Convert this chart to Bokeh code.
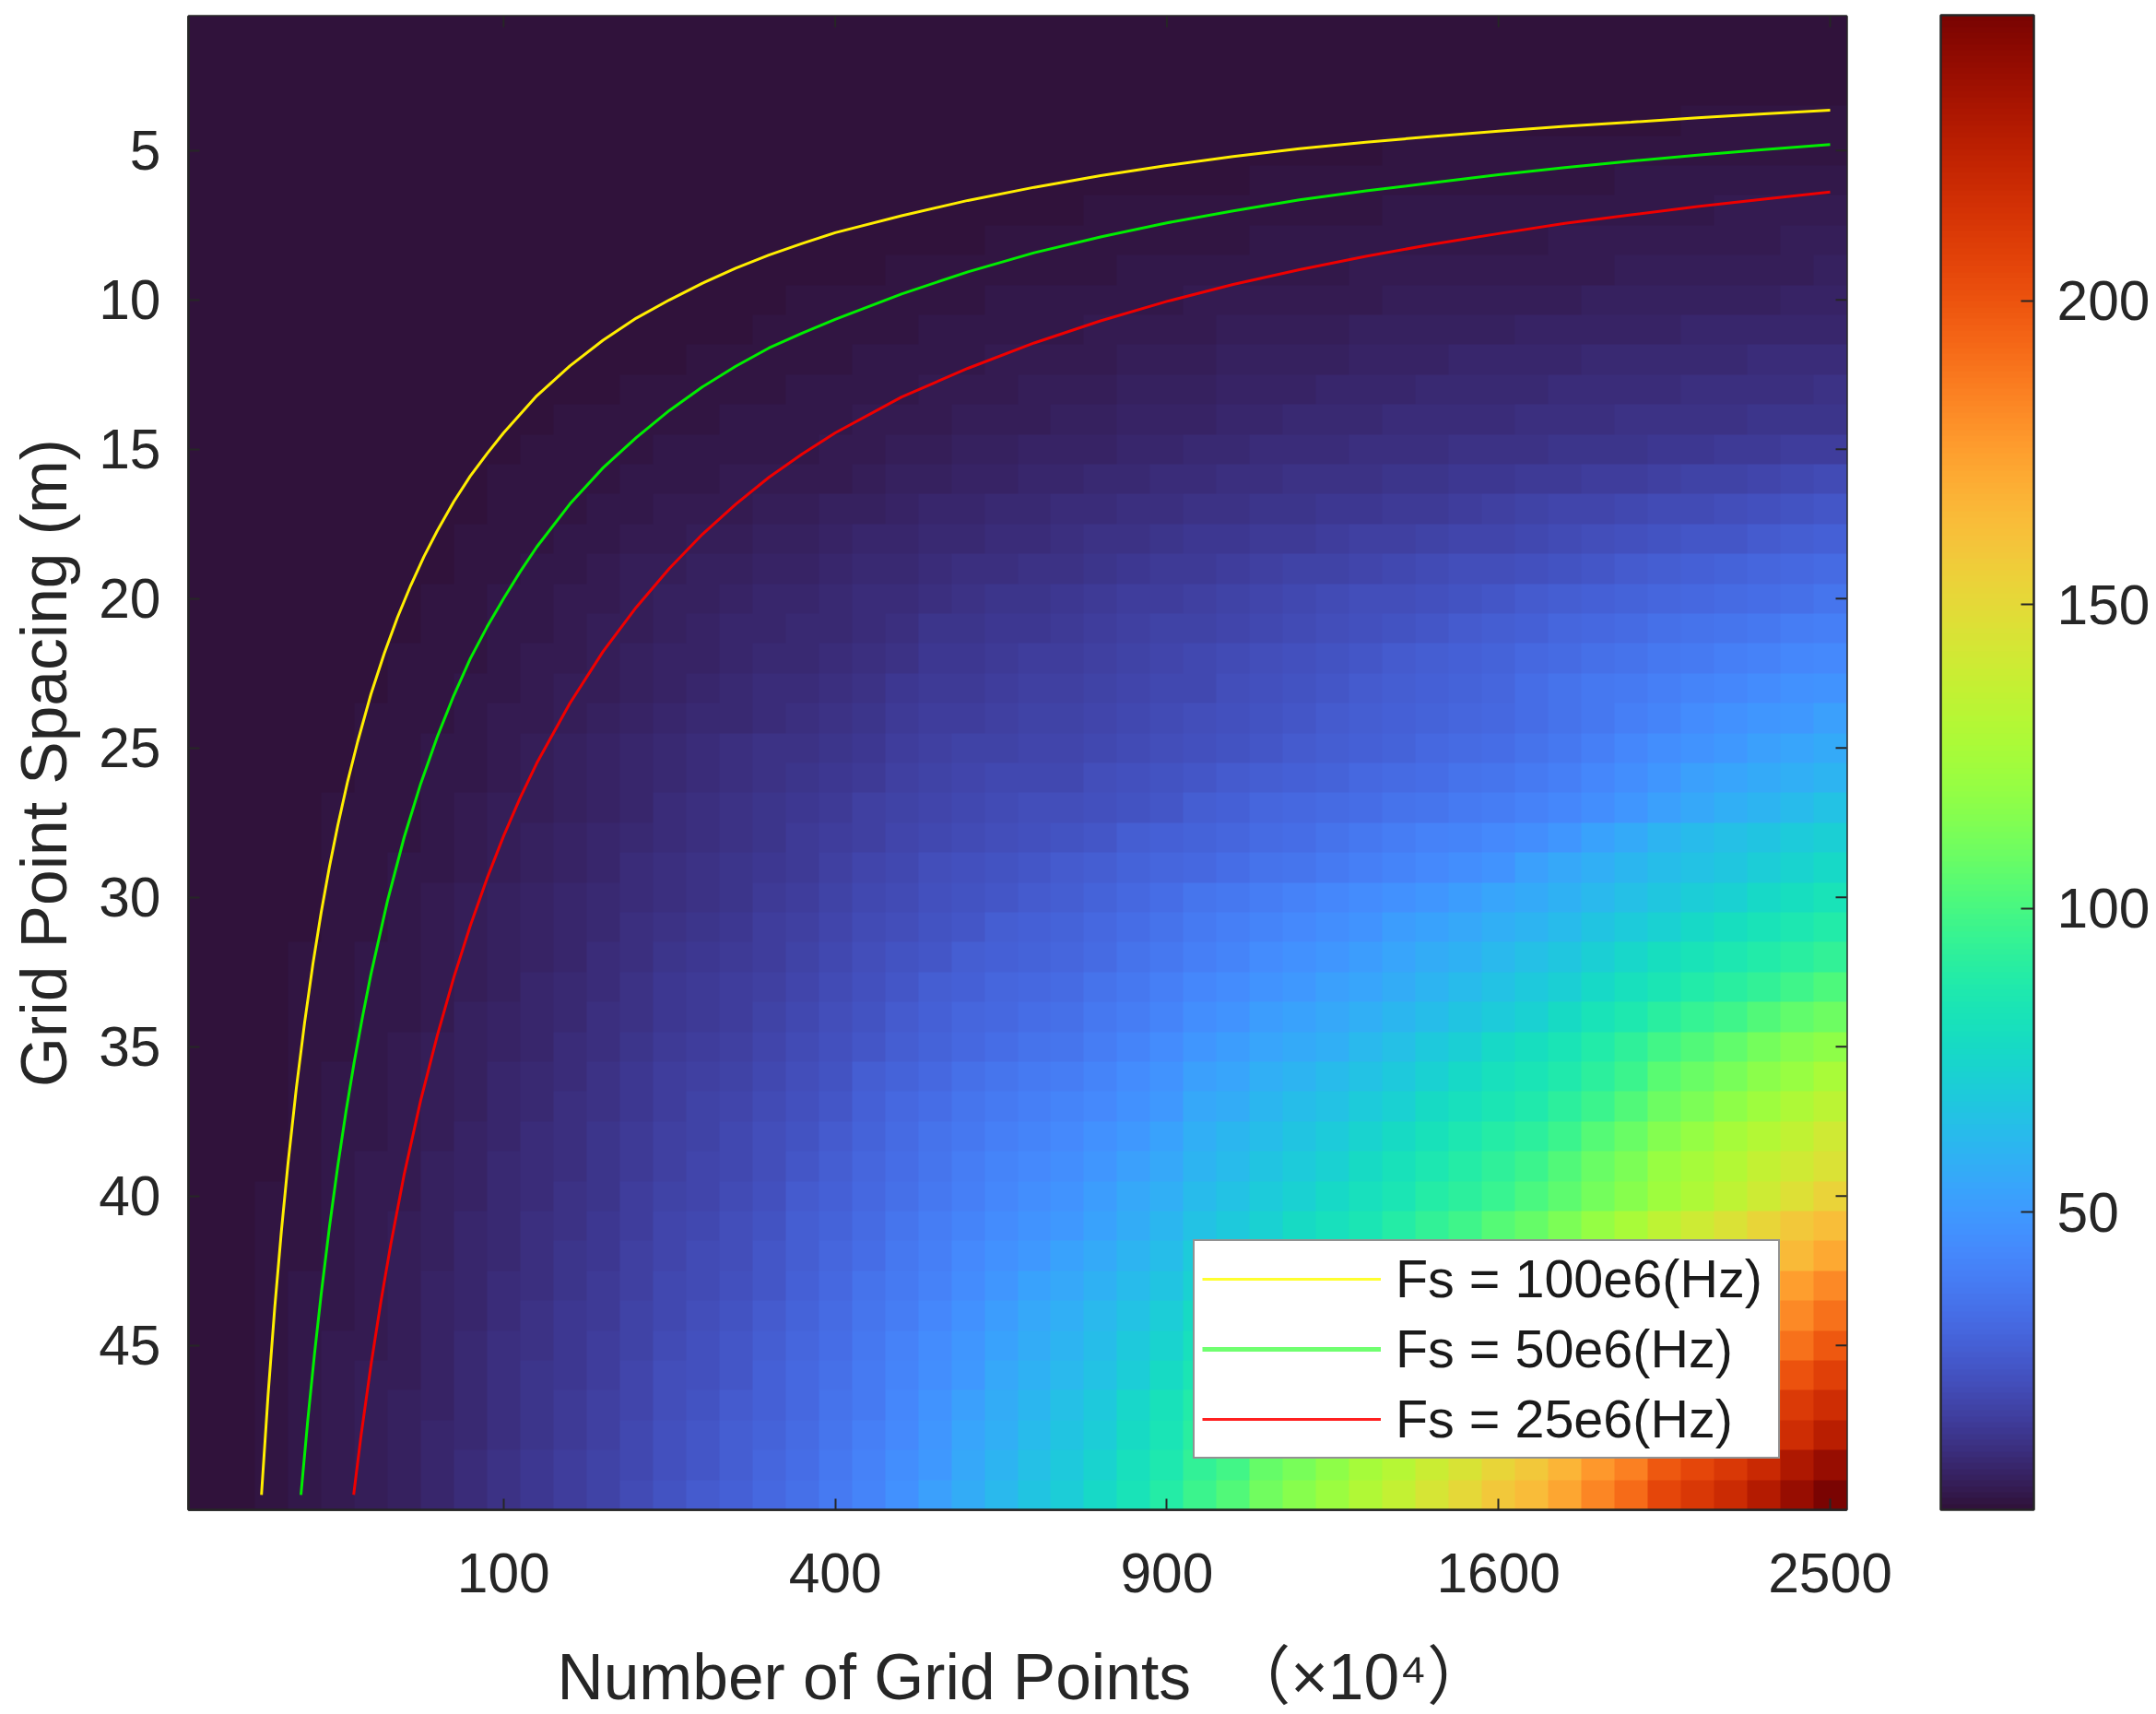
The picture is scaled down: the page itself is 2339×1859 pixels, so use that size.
import numpy as np
from bokeh.plotting import figure
from bokeh.models import (ColorBar, FixedTicker, Legend, LegendItem, LinearColorMapper, Range1d)
from bokeh.palettes import Turbo256
from bokeh.embed import file_html
from bokeh.resources import INLINE

x_tick_positions = [10, 20, 30, 40, 50]
x_tick_labels = ["100", "400", "900", "1600", "2500"]
y_tick_positions = [5, 10, 15, 20, 25, 30, 35, 40, 45]
colorbar_ticks = [50, 100, 150, 200]
x_title = "\u2009Number of Grid Points \u00a0\uff08\u00d710\u2074\uff09"
y_title = "Grid Point Spacing (m)"

# one row per spacing value 1..50, one column per grid index 1..50
cell_values = [
 [1]*50,
 [1]*50,
 [1]*50,
 [1]*40 + [1,1,1,1,1,2,2,2,2,2],
 [1]*36 + [2,2,2,2, 2,2,2,2,2,2,2,2,2,2],
 [1]*30 + [1,1,2,2,2,2,2,2,2,2, 2,2,2,3,3,3,3,3,3,3],
 [1]*20 + [1,1,1,1,1,1,1,2,2,2, 2,2,2,2,2,2,3,3,3,3, 3,3,3,3,3,3,4,4,4,4],
 [1]*20 + [1,1,1,1,2,2,2,2,2,2, 2,2,3,3,3,3,3,3,3,3, 3,4,4,4,4,4,4,4,5,5],
 [1]*20 + [1,2,2,2,2,2,2,2,3,3, 3,3,3,3,3,4,4,4,4,4, 4,4,4,5,5,5,5,5,5,6],
 [1]*10 + [1,1,1,1,1,1,1,1,2,2, 2,2,2,2,3,3,3,3,3,3, 4,4,4,4,4,4,5,5,5,5, 5,5,6,6,6,6,6,6,7,7],
 [1]*10 + [1,1,1,1,1,1,1,2,2,2, 2,2,3,3,3,3,3,4,4,4, 4,5,5,5,5,6,6,6,6,6, 7,7,7,7,7,8,8,8,8,8],
 [1]*10 + [1,1,1,1,1,2,2,2,2,2, 3,3,3,3,4,4,4,4,5,5, 5,6,6,6,6,7,7,7,8,8, 8,8,9,9,9,9,9,10,10,10],
 [1]*10 + [1,1,1,2,2,2,2,2,3,3, 3,3,4,4,4,5,5,5,6,6, 6,7,7,7,8,8,8,9,9,9, 9,10,10,10,10,11,11,11,11,12],
 [1]*10 + [1,2,2,2,2,2,3,3,3,3, 4,4,4,5,5,5,6,6,7,7, 7,8,8,9,9,9,10,10,10,10, 11,11,11,12,12,12,12,13,13,13],
 [1]*10 + [2,2,2,2,3,3,3,3,3,4, 4,5,5,6,6,7,7,7,8,8, 9,9,10,10,10,11,11,11,12,12, 12,13,13,13,14,14,15,15,16,16],
 [1,1,1,1,1,1,1,1,1,2, 2,2,2,3,3,3,4,4,4,4, 5,6,6,7,7,8,8,9,9,10, 10,11,11,12,12,12,13,13,14,14, 15,15,16,16,17,18,18,19,20,21],
 [1,1,1,1,1,1,1,1,1,2, 2,2,3,3,4,4,4,5,5,6, 6,7,8,8,9,9,10,10,11,11, 12,12,13,13,14,14,15,15,16,17, 18,19,19,20,21,21,22,23,24,25],
 [1,1,1,1,1,1,1,1,2,2, 2,3,3,4,4,5,5,6,6,7, 8,8,9,9,10,10,11,12,12,13, 14,14,15,15,16,17,17,18,19,19, 20,21,22,23,24,25,25,26,27,28],
 [1,1,1,1,1,1,1,1,2,2, 3,3,4,5,5,6,6,7,7,8, 9,9,10,11,11,12,12,13,14,15, 15,16,17,18,18,19,20,21,22,22, 23,24,25,26,27,28,29,30,31,32],
 [1,1,1,1,1,1,1,2,2,3, 3,4,4,5,6,6,7,8,8,9, 10,10,11,12,13,13,14,15,16,16, 17,18,19,20,21,22,22,23,24,25, 26,27,28,29,30,31,32,33,34,36],
 [1,1,1,1,1,1,1,2,2,3, 3,4,5,5,6,7,8,8,9,9, 10,11,13,13,14,14,15,16,17,18, 18,19,20,21,22,23,24,25,26,27, 28,30,31,32,34,35,36,37,39,40],
 [1,1,1,1,1,1,2,2,2,3, 4,4,5,6,7,7,8,9,9,10, 11,12,14,14,15,16,16,17,18,19, 20,21,22,23,24,25,26,27,28,29, 31,32,34,35,37,38,40,41,43,44],
 [1,1,1,1,1,1,2,2,3,3, 4,5,5,6,7,8,9,10,10,11, 12,14,15,15,16,17,17,18,19,20, 20,22,23,24,25,26,27,28,29,30, 33,35,37,38,40,42,43,45,47,48],
 [1,1,1,1,1,2,2,2,3,4, 4,5,6,7,8,9,9,10,11,12, 13,15,16,16,17,18,18,19,20,21, 22,23,24,25,26,27,28,29,30,31, 33,35,37,40,42,45,47,49,50,52],
 [1,1,1,1,1,2,2,3,3,4, 5,6,7,8,9,10,11,12,12,13, 14,16,17,18,18,19,19,20,21,22, 23,24,25,26,27,28,29,31,32,33, 35,37,40,43,46,48,50,52,54,56],
 [1,1,1,1,1,2,2,3,3,4, 5,6,7,8,9,10,11,12,13,14, 15,17,18,19,20,20,20,22,23,24, 25,26,27,28,29,31,32,33,35,36, 38,40,43,46,49,52,54,56,58,60],
 [1,1,1,1,2,2,2,3,4,5, 5,6,7,8,10,11,12,13,14,15, 17,18,19,20,21,22,22,23,24,25, 27,28,30,31,32,33,35,36,38,39, 41,43,46,49,52,55,58,60,63,66],
 [1,1,1,1,2,2,2,3,4,5, 6,7,8,9,10,11,12,13,15,16, 17,19,20,21,22,23,24,25,27,28, 29,30,32,33,35,37,39,41,42,44, 46,49,53,56,60,63,65,67,70,72],
 [1,1,1,1,2,2,3,3,4,5, 6,7,8,10,11,12,13,14,15,17, 19,20,22,23,24,25,26,27,29,30, 31,33,35,36,38,40,42,44,46,48, 52,55,58,61,64,66,68,71,74,76],
 [1,1,1,1,2,2,3,4,5,6, 7,8,9,10,11,12,13,15,16,18, 20,21,23,24,25,26,27,29,31,33, 36,37,39,41,43,45,47,49,51,54, 56,59,62,65,68,71,73,76,79,82],
 [1,1,1,1,2,2,3,4,5,6, 7,8,9,11,12,13,14,16,17,19, 21,22,24,25,27,28,29,31,33,35, 38,40,42,44,46,48,51,53,55,58, 60,63,67,70,73,76,79,82,85,88],
 [1,1,1,2,2,3,3,4,5,6, 7,8,10,11,13,14,15,16,18,20, 22,24,25,27,28,29,30,32,35,37, 40,42,45,47,49,51,54,57,59,62, 65,68,72,75,79,82,85,88,91,94],
 [1,1,1,2,2,3,3,4,5,6, 8,9,10,12,14,15,16,17,19,21, 23,25,27,28,30,31,32,35,37,40, 43,45,48,50,52,54,57,60,63,66, 69,72,76,80,84,88,91,94,98,101],
 [1,1,1,2,2,3,3,4,6,7, 8,9,11,12,14,15,16,18,20,22, 24,26,28,30,31,33,34,37,39,42, 46,48,51,53,55,58,61,64,67,70, 73,77,82,86,91,95,98,102,106,109],
 [1,1,1,2,2,3,4,5,6,7, 8,10,11,13,15,16,17,19,21,23, 25,27,29,31,33,35,36,39,42,45, 49,51,54,56,58,62,65,69,72,76, 79,83,88,93,99,102,106,111,115,118],
 [1,1,1,2,3,3,4,5,6,8, 9,10,12,14,16,17,18,20,22,24, 27,29,31,34,36,38,39,42,45,48, 52,54,58,60,63,66,69,73,76,80, 83,87,92,97,104,108,112,117,121,126],
 [1,1,1,2,3,3,4,5,6,8, 9,11,12,14,16,18,19,21,23,25, 28,31,33,36,38,40,42,44,47,50, 55,57,61,64,66,70,73,77,80,84, 87,92,97,102,109,113,118,123,128,133],
 [1,1,1,2,3,3,4,5,7,8, 10,11,13,15,17,18,20,22,24,26, 29,32,35,37,40,42,44,47,50,53, 58,61,64,67,70,74,77,81,85,89, 92,97,103,108,115,120,125,130,135,141],
 [1,1,1,2,3,4,4,6,7,9, 10,11,13,15,17,19,20,22,25,27, 30,33,36,39,42,44,46,49,52,55, 60,63,67,70,73,77,81,85,89,93, 97,102,108,113,121,125,130,136,141,146],
 [1,1,2,2,3,4,4,6,7,9, 10,12,13,16,18,19,21,23,26,28, 31,34,37,40,43,46,48,51,55,58, 63,66,70,73,76,80,84,89,92,96, 100,105,111,116,123,128,134,140,147,153],
 [1,1,2,2,3,4,5,6,8,9, 11,12,14,16,19,20,22,24,27,29, 32,36,39,42,45,48,50,53,57,61, 66,69,73,77,80,84,89,94,98,103, 107,113,120,126,134,140,146,152,158,163],
 [1,1,2,2,3,4,5,6,8,9, 11,13,14,17,19,21,22,25,27,30, 33,37,40,44,47,50,53,56,60,64, 70,73,78,82,85,89,94,99,103,108, 112,117,125,132,141,146,151,157,165,172],
 [1,1,2,3,3,4,5,7,8,10, 11,13,15,17,20,21,23,25,28,31, 35,38,41,45,49,53,55,59,63,67, 73,76,81,85,89,94,99,104,109,114, 118,124,132,139,148,154,160,167,175,182],
 [1,1,2,3,3,4,5,7,8,10, 12,14,15,18,20,22,24,26,29,32, 36,39,43,47,51,55,58,62,66,71, 77,80,86,90,94,99,104,110,115,120, 125,131,139,146,156,161,166,173,182,190],
 [1,1,2,3,4,4,5,7,9,11, 12,14,16,18,21,23,25,27,30,33, 37,41,45,49,53,57,60,64,69,74, 80,84,90,95,100,105,110,116,121,127, 132,138,147,153,164,169,174,181,190,198],
 [1,1,2,3,4,5,5,7,9,11, 13,14,16,19,22,23,25,28,31,34, 38,42,46,50,55,59,62,66,71,77, 84,88,95,100,105,111,116,123,128,134, 139,146,155,163,173,179,184,192,200,208],
 [1,1,2,3,4,5,6,7,9,11, 13,15,17,19,22,24,26,28,31,35, 38,43,48,52,57,61,65,69,75,81, 88,93,100,105,110,117,123,130,135,142, 148,156,165,172,184,190,196,203,211,218],
 [1,1,2,3,4,5,6,8,9,11, 13,15,17,20,23,25,27,29,32,36, 40,44,49,54,58,63,67,71,77,83, 91,95,103,108,114,120,126,134,139,146, 152,160,169,177,189,195,201,209,218,226],
 [1,1,2,3,4,5,6,8,10,12, 14,16,18,20,23,25,27,30,33,37, 41,46,50,55,60,65,69,74,80,86, 94,99,107,112,118,125,131,139,145,152, 158,167,177,185,198,205,212,220,230,238],
 [1,1,2,3,4,5,6,8,10,12, 14,16,18,21,24,26,28,31,34,38, 42,47,52,57,62,67,71,76,82,89, 97,102,110,116,122,129,136,144,150,158, 164,173,183,192,205,212,219,228,238,247],
]

curve_100_k = [2.7, 2.9, 3.1, 3.3, 3.5, 3.75, 4, 4.25, 4.5, 4.75, 5, 5.3, 5.6, 6, 6.4, 6.8, 7.2, 7.6, 8, 8.5, 9, 9.5, 10, 11, 12, 13, 14, 15, 16, 17, 18, 19, 20, 22, 24, 26, 28, 30, 32, 34, 36, 38, 40, 42, 44, 46, 48, 50]
curve_100_s = [50.0, 46.65, 43.74, 41.18, 38.91, 36.4, 34.2, 32.24, 30.51, 28.97, 27.6, 26.11, 24.79, 23.2, 21.84, 20.63, 19.56, 18.59, 17.73, 16.75, 15.89, 15.15, 14.45, 13.21, 12.21, 11.35, 10.61, 10.0, 9.44, 8.94, 8.5, 8.11, 7.75, 7.18, 6.67, 6.23, 5.84, 5.5, 5.2, 4.94, 4.72, 4.53, 4.35, 4.19, 4.05, 3.9, 3.77, 3.65]
curve_50_k = [3.89, 4.1, 4.3, 4.5, 4.75, 5, 5.25, 5.5, 5.75, 6, 6.5, 7, 7.5, 8, 8.5, 9, 9.5, 10, 10.5, 11, 12, 13, 14, 15, 16, 17, 18, 19, 20, 22, 24, 26, 28, 30, 32, 34, 36, 38, 40, 42, 44, 46, 48, 50]
curve_50_s = [50.0, 47.46, 45.28, 43.29, 41.03, 39.0, 37.16, 35.49, 33.98, 32.58, 30.12, 28.0, 26.2, 24.63, 23.24, 22.0, 20.95, 20.0, 19.1, 18.27, 16.83, 15.62, 14.61, 13.7, 12.91, 12.22, 11.61, 11.11, 10.65, 9.8, 9.06, 8.42, 7.89, 7.42, 7.02, 6.65, 6.35, 6.08, 5.81, 5.57, 5.35, 5.15, 4.97, 4.8]
curve_25_k = [5.48, 5.7, 6, 6.3, 6.6, 7, 7.5, 8, 8.5, 9, 9.5, 10, 10.5, 11, 12, 13, 14, 15, 16, 17, 18, 19, 20, 22, 24, 26, 28, 30, 32, 34, 36, 38, 40, 42, 44, 46, 48, 50]
curve_25_s = [50.0, 48.04, 45.67, 43.54, 41.61, 39.29, 36.8, 34.63, 32.68, 30.94, 29.37, 27.95, 26.67, 25.51, 23.5, 21.77, 20.29, 18.99, 17.84, 16.84, 15.94, 15.16, 14.45, 13.25, 12.29, 11.44, 10.7, 10.05, 9.48, 8.99, 8.54, 8.14, 7.78, 7.44, 7.15, 6.87, 6.63, 6.39]
legend_labels = ["Fs = 100e6(Hz)", "Fs = 50e6(Hz)", "Fs = 25e6(Hz)"]

FONT = "'Liberation Sans','Noto Sans CJK SC'"
INK = "#262626"
TICK_FONT = "60.5px"
TITLE_FONT = "69.5px"

p = figure(output_backend="svg", toolbar_location=None,
           frame_width=1799, frame_height=1620,
           min_border_left=204, min_border_top=17, min_border_bottom=214, min_border_right=328,
           x_range=Range1d(0.5, 50.5), y_range=Range1d(50.5, 0.5))
p.grid.visible = False
p.background_fill_color = "white"
p.outline_line_color = INK
p.outline_line_width = 2.5

# legend keys: same curves, kept beneath the image so that only their legend glyphs show
leg100 = p.line(curve_100_k, curve_100_s, line_color="#ffff30", line_width=3)
leg50 = p.line(curve_50_k, curve_50_s, line_color="#70ff70", line_width=5)
leg25 = p.line(curve_25_k, curve_25_s, line_color="#ff2020", line_width=3)

mapper = LinearColorMapper(palette=Turbo256, low=1, high=247)
p.image(image=[np.array(cell_values, dtype=float)], x=0.5, y=0.5, dw=50, dh=50, color_mapper=mapper)

p.line(curve_100_k, curve_100_s, line_color="#ffee00", line_width=3)
p.line(curve_50_k, curve_50_s, line_color="#00ee00", line_width=3)
p.line(curve_25_k, curve_25_s, line_color="#ee0000", line_width=3)

# ticks on the top and right sides, from the same tick positions as the axes
tick_dx = 12 / 36
tick_dy = 12 / 32.4
p.segment(x_tick_positions, [0.5]*5, x_tick_positions, [0.5 + tick_dy]*5, line_color=INK, line_width=2)
p.segment([50.5]*9, y_tick_positions, [50.5 - tick_dx]*9, y_tick_positions, line_color=INK, line_width=2)

for ax in (p.xaxis[0], p.yaxis[0]):
    ax.axis_line_color = INK
    ax.axis_line_width = 2.5
    ax.major_tick_in = 12
    ax.major_tick_out = 0
    ax.major_tick_line_color = INK
    ax.major_tick_line_width = 2
    ax.minor_tick_line_color = None
    ax.major_label_text_font = FONT
    ax.major_label_text_font_size = TICK_FONT
    ax.major_label_text_color = INK
    ax.axis_label_text_font = FONT
    ax.axis_label_text_font_size = TITLE_FONT
    ax.axis_label_text_font_style = "normal"
    ax.axis_label_text_color = INK

p.xaxis[0].ticker = FixedTicker(ticks=x_tick_positions)
p.xaxis[0].major_label_overrides = dict(zip(x_tick_positions, x_tick_labels))
p.xaxis[0].major_label_standoff = 47
p.xaxis[0].axis_label = x_title
p.xaxis[0].axis_label_standoff = 50
p.yaxis[0].ticker = FixedTicker(ticks=y_tick_positions)
p.yaxis[0].major_label_standoff = 30
p.yaxis[0].axis_label = y_title
p.yaxis[0].axis_label_standoff = 17

legend = Legend(items=[LegendItem(label=legend_labels[0], renderers=[leg100]),
                       LegendItem(label=legend_labels[1], renderers=[leg50]),
                       LegendItem(label=legend_labels[2], renderers=[leg25])],
                location=(1090, 55), glyph_width=194, glyph_height=30, label_standoff=16,
                label_width=407, padding=8, spacing=10, margin=0,
                border_line_color=INK, border_line_width=2.5,
                background_fill_color="white", background_fill_alpha=1,
                label_text_font=FONT, label_text_font_size="57.5px", label_text_color="#1a1a1a")
p.add_layout(legend)

bar = ColorBar(color_mapper=mapper, ticker=FixedTicker(ticks=colorbar_ticks), width=101, height=1621,
               margin=0, padding=0, location=(102, 0),
               major_tick_in=14, major_tick_out=0, major_tick_line_color=INK, major_tick_line_width=2,
               minor_tick_line_color=None, bar_line_color=INK, bar_line_width=2.5,
               border_line_color=None, background_fill_color=None,
               label_standoff=25, major_label_text_font=FONT, major_label_text_font_size=TICK_FONT,
               major_label_text_color=INK)
p.add_layout(bar, "right")

open("out.html", "w").write(file_html(p, INLINE))
